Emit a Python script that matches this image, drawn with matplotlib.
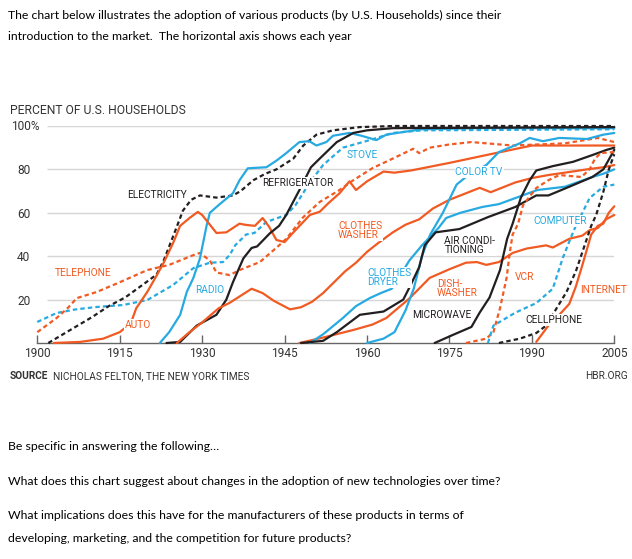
import matplotlib
matplotlib.use("Agg")
import matplotlib.pyplot as plt

# colours used by the chart
ORANGE = "#F15A22"
BLUE = "#27AAE1"
BLACK = "#231F20"

# adoption data (year, percent of households)
electricity_years = [1902, 1906, 1910, 1913, 1916, 1919, 1921.7, 1923, 1925.3, 1926.5, 1928, 1929.6, 1932.6,
                     1935.6, 1937, 1939.3, 1941.5, 1943.5, 1946.6, 1948.4, 1950.8, 1953.8, 1958.7, 1965, 2005]
electricity_pct = [0, 6, 12, 17, 21, 26.5, 31.5, 38, 53, 61, 66, 68, 67,
                   68, 70, 75, 78, 80, 85, 91, 96, 98, 99.5, 100, 100]

telephone_years = [1900, 1903.5, 1905.5, 1907.2, 1910.8, 1915, 1920, 1924, 1928.4, 1929.6, 1931.4, 1932.6, 1935,
                   1936.8, 1940.5, 1944, 1945.3, 1948.4, 1951.4, 1955, 1957.5, 1961, 1964.7, 1968.4, 1969.5,
                   1971.4, 1975, 1979, 1986.5, 1996, 2002, 2005]
telephone_pct = [5, 11.5, 16, 20.7, 23.5, 28, 33.6, 36, 40.5, 41.5, 38, 32.5, 31.3,
                 33.6, 37.3, 45, 48, 58, 65, 70.5, 75, 80.6, 85, 89.5, 87.5,
                 90, 91.5, 92.6, 91, 92, 94.5, 92.6]

auto_years = [1903, 1907.8, 1912, 1915, 1917, 1918, 1920, 1921.7, 1923, 1924.7, 1926, 1927.7, 1929.2, 1930,
              1932.6, 1934.4, 1936.8, 1938, 1939.6, 1941, 1942.2, 1943.5, 1945, 1946.5, 1949.6, 1951.4, 1953,
              1955, 1956.8, 1958, 1960, 1963, 1965, 1968, 1975, 1981.7, 1990, 2005]
auto_pct = [0, 0.5, 2, 5, 9, 16, 23.5, 31, 37, 46, 54, 57.6, 60.4, 59,
            50.7, 51, 55, 54.4, 54, 57.6, 53.5, 47.5, 46.5, 50.7, 59, 60.5, 64.5,
            69, 74.5, 70.5, 74.5, 79, 78.5, 79.5, 83, 86.6, 91, 91]

radio_years = [1922.3, 1924, 1926, 1927.2, 1928.4, 1929.6, 1930.8, 1931.4, 1933.2, 1935.6, 1936.8, 1938.3,
               1941.7, 1943.5, 1945.3, 1947.7, 1949.5, 1950.8, 1952.6, 1953.8, 1956.8, 1959, 1961.7, 1963.5,
               1966, 1970, 1980, 2005]
radio_pct = [0, 5, 13, 23.5, 30, 39, 54, 60, 64, 69, 75, 80.5,
             81, 84, 87.5, 92.6, 93, 91, 92.6, 95.5, 96.8, 95.5, 93.5, 96,
             97, 98.5, 99, 99]

fridge_years = [1923.5, 1926, 1929, 1932.6, 1934.4, 1935.6, 1937.5, 1939, 1940, 1942.3, 1944, 1945.3,
                1947.7, 1949.8, 1951.4, 1954.5, 1957.5, 1960, 1964.7, 2005]
fridge_pct = [0, 0.5, 8, 13, 20, 28, 39, 43.8, 44.5, 50.5, 54, 59,
              70.5, 81, 85, 92.6, 96.8, 98, 99, 99.5]

stove_years = [1900, 1903.5, 1907, 1910.8, 1915.6, 1920, 1924.7, 1928.4, 1931.4, 1933.8, 1935, 1936, 1938,
               1939.5, 1941.7, 1945.3, 1947, 1949.6, 1952, 1955.6, 1960.5, 1964.7, 1970, 2005]
stove_pct = [9.7, 13.8, 15.5, 16.6, 17.5, 19.8, 26.7, 34.5, 37, 37.3, 40.5, 45, 50,
             50.7, 55.8, 59, 63.6, 74, 82, 90, 93.5, 96.8, 98, 98.5]

washer_years = [1925.4, 1927.7, 1930, 1933, 1935, 1939, 1941, 1943, 1946, 1948, 1950, 1952, 1954, 1956,
                1958, 1960, 1962, 1964.7, 1967, 1969.5, 1972, 1975, 1978, 1980.5, 1982.5, 1985, 1987,
                1990, 1993, 1996, 2000, 2003, 2005]
washer_pct = [0, 5, 9.5, 16, 18.5, 25, 23, 19.5, 15.5, 16.5, 19, 23, 28, 33,
              37, 42, 46, 51, 54.5, 57, 62, 66, 69, 71.5, 69.5, 72, 74,
              76, 77.4, 78.5, 80, 81, 82]

dryer_years = [1949.6, 1952, 1955.6, 1958, 1960.5, 1962.5, 1964.5, 1966, 1967.7, 1970, 1973, 1974.4, 1977,
               1981, 1984, 1987, 1991, 1996, 2001, 2003, 2005]
dryer_pct = [0, 4, 11.5, 17, 20.7, 23, 25, 31, 38, 45, 53, 57.6, 60,
             62.7, 64, 66.8, 70.5, 72, 76.5, 78, 80]

ac_years = [1948, 1952, 1954.5, 1958.7, 1963, 1966.6, 1968, 1969.5, 1970.5, 1972.5, 1976.8, 1982, 1987,
            1990.8, 1993, 1996.8, 2001, 2003, 2005]
ac_pct = [0, 1, 5, 13, 14.5, 20, 27, 35, 45, 51, 52.5, 58, 62.7,
          68, 68, 72, 76.5, 80, 89]

dishwasher_years = [1947.7, 1952, 1957.5, 1961, 1963.5, 1967.7, 1971.4, 1975, 1978, 1980, 1981.7, 1984,
                    1986.5, 1989, 1992.6, 1993.8, 1996.8, 1999.2, 2000.5, 2002, 2003.5, 2005]
dishwasher_pct = [0, 2.5, 6, 8.5, 11.5, 20.5, 30, 34, 37, 37.3, 36, 37.3,
                  41.5, 43.5, 45, 44, 48, 49.5, 52, 53, 57, 59]

colortv_years = [1960, 1963, 1965, 1967, 1968.5, 1970, 1971.5, 1973.8, 1976.3, 1978, 1981.7, 1984, 1987.8,
                 1989.6, 1992, 1995, 2000, 2003, 2005]
colortv_pct = [0, 2, 5, 15, 25, 40, 50, 60, 73, 76.5, 82, 88, 92,
               94.5, 93, 94.5, 94, 96, 96.8]

microwave_years = [1972.3, 1975.6, 1979, 1980.5, 1982.3, 1984.2, 1985.5, 1986.5, 1988, 1989.6, 1990.8,
                   1993.8, 1997.5, 2001, 2003.6, 2005]
microwave_pct = [0, 3.7, 7.4, 14, 21, 33.6, 48, 55, 67, 75, 79.5,
                 81.5, 83.5, 86.6, 89, 90]

vcr_years = [1978, 1981.7, 1983, 1984.2, 1985.4, 1986, 1986.5, 1987.5, 1988.4, 1990.8, 1993, 1995, 1999,
             2000.5, 2001.5, 2002.5, 2005]
vcr_pct = [0, 2, 5, 16, 30, 42, 50, 55, 63.6, 71.4, 75, 77.4, 76.5,
           80, 85, 87.5, 88]

computer_years = [1982, 1983, 1987, 1990.8, 1993.8, 1995.6, 1997, 1998, 1999.2, 2000.5, 2003, 2005]
computer_pct = [0, 8, 14, 18.4, 25, 39, 48, 54, 60, 66.8, 72, 73]

cellphone_years = [1984, 1987.8, 1990.8, 1992.6, 1994.5, 1996.3, 1998, 1999.2, 2000.8, 2001.7, 2003, 2004, 2005]
cellphone_pct = [0, 2, 4.6, 8, 16, 23.5, 33, 42, 54, 59, 69.6, 80, 87]

internet_years = [1990.8, 1993, 1995, 1996.8, 1998, 1999.2, 2000.8, 2002, 2003, 2004, 2005]
internet_pct = [0.5, 8, 13, 18, 26, 36, 50, 54, 55, 60, 63]

x_ticks = [1900, 1915, 1930, 1945, 1960, 1975, 1990, 2005]
y_ticks = [20, 40, 60, 80]
grid_levels = [20, 40, 60, 80, 100]

W, H = 632, 559
FONT = "Roboto"
fig = plt.figure(figsize=(W / 100, H / 100), dpi=100)
ax = fig.add_axes([37.3 / W, 1 - 343 / H, (614.3 - 37.3) / W, (343 - 126) / H])
ax.set_xlim(1900, 2005)
ax.set_ylim(0, 100)

ax.hlines(grid_levels, 1901.7, 2005, color="#d6d6d6", lw=1, zorder=0)

series = [
    (stove_years, stove_pct, BLUE, True),
    (telephone_years, telephone_pct, ORANGE, True),
    (electricity_years, electricity_pct, BLACK, True),
    (radio_years, radio_pct, BLUE, False),
    (auto_years, auto_pct, ORANGE, False),
    (fridge_years, fridge_pct, BLACK, False),
    (washer_years, washer_pct, ORANGE, False),
    (dishwasher_years, dishwasher_pct, ORANGE, False),
    (dryer_years, dryer_pct, BLUE, False),
    (colortv_years, colortv_pct, BLUE, False),
    (ac_years, ac_pct, BLACK, False),
    (microwave_years, microwave_pct, BLACK, False),
    (vcr_years, vcr_pct, ORANGE, True),
    (computer_years, computer_pct, BLUE, True),
    (cellphone_years, cellphone_pct, BLACK, True),
    (internet_years, internet_pct, ORANGE, False),
]
for xs, ys, col, dashed in series:
    line, = ax.plot(xs, ys, color=col, lw=1.6, clip_on=False, zorder=2,
                    solid_joinstyle="round", solid_capstyle="round")
    if dashed:
        line.set_dashes((2, 1.4))

# line labels: text, x, y, colour, alignment
labels = [
    ("ELECTRICITY", 1927.2, 68.2, BLACK, "right"),
    ("REFRIGERATOR", 1941.0, 73.7, BLACK, "left"),
    ("STOVE", 1956.3, 86.6, BLUE, "left"),
    ("COLOR TV", 1976.1, 78.8, BLUE, "left"),
    ("CLOTHES\nWASHER", 1954.7, 51.8, ORANGE, "left"),
    ("COMPUTER", 1990.3, 56.2, BLUE, "left"),
    ("AIR CONDI-\nTIONING", 1974.1, 44.9, BLACK, "left"),
    ("TELEPHONE", 1903.2, 32.3, ORANGE, "left"),
    ("RADIO", 1928.7, 24.4, BLUE, "left"),
    ("CLOTHES\nDRYER", 1960.1, 30.2, BLUE, "left"),
    ("DISH-\nWASHER", 1972.7, 25.1, ORANGE, "left"),
    ("VCR", 1986.9, 30.4, ORANGE, "left"),
    ("INTERNET", 1998.7, 24.4, ORANGE, "left"),
    ("AUTO", 1915.9, 8.3, ORANGE, "left"),
    ("MICROWAVE", 1968.3, 12.9, BLACK, "left"),
    ("CELLPHONE", 1988.9, 10.6, BLACK, "left"),
]
for txt, x, y, col, ha in labels:
    ax.text(x, y, txt, color=col, fontsize=7.3, family=FONT, ha=ha, va="center",
            linespacing=0.95, zorder=5, clip_on=False,
            bbox=dict(facecolor="white", edgecolor="none", pad=0.6))

for s in ["top", "right", "left"]:
    ax.spines[s].set_visible(False)
ax.spines["bottom"].set_color("#666666")
ax.spines["bottom"].set_linewidth(1)
ax.spines["bottom"].set_zorder(1)
ax.set_xticks(x_ticks)
ax.set_xticklabels([str(t) for t in x_ticks], family=FONT, fontsize=8.6, color="#333333")
ax.tick_params(axis="x", direction="in", length=6, width=1, color="#666666", pad=3)
ax.set_yticks(y_ticks)
ax.set_yticklabels([str(t) for t in y_ticks], family=FONT, fontsize=8.6, color="#333333")
ax.tick_params(axis="y", length=0, pad=5)

fig.text(11 / W, 1 - 127 / H, "100%", family=FONT, fontsize=8.6, color="#333333", va="center")
fig.text(10 / W, 1 - 111 / H, "PERCENT OF U.S. HOUSEHOLDS", family=FONT, fontsize=8.7,
         color="#333333", va="center")
fig.text(10 / W, 1 - 376 / H, "SOURCE", family=FONT, fontsize=7.3, weight="bold",
         color="#333333", va="center")
fig.text(53 / W, 1 - 376 / H, "NICHOLAS FELTON, THE NEW YORK TIMES", family=FONT, fontsize=7.3,
         color="#333333", va="center")
fig.text(628 / W, 1 - 376 / H, "HBR.ORG", family=FONT, fontsize=7.3, color="#333333",
         va="center", ha="right")

# surrounding question text, sized so the first line spans the same width as in the picture
body = [
    ("The chart below illustrates the adoption of various products (by U.S. Households) since their", 19),
    ("introduction to the market.  The horizontal axis shows each year", 40),
    ("Be specific in answering the following\u2026", 450),
    ("What does this chart suggest about changes in the adoption of new technologies over time?", 485),
    ("What implications does this have for the manufacturers of these products in terms of", 519),
    ("developing, marketing, and the competition for future products?", 542),
]
texts = [fig.text(8 / W, 1 - yb / H, s, family="Lato", fontsize=11, color="black", va="baseline")
         for s, yb in body]
renderer = fig.canvas.get_renderer()
scale = 493 / texts[0].get_window_extent(renderer).width
for t in texts:
    t.set_fontsize(11 * scale)

fig.savefig("out.png", dpi=100)
